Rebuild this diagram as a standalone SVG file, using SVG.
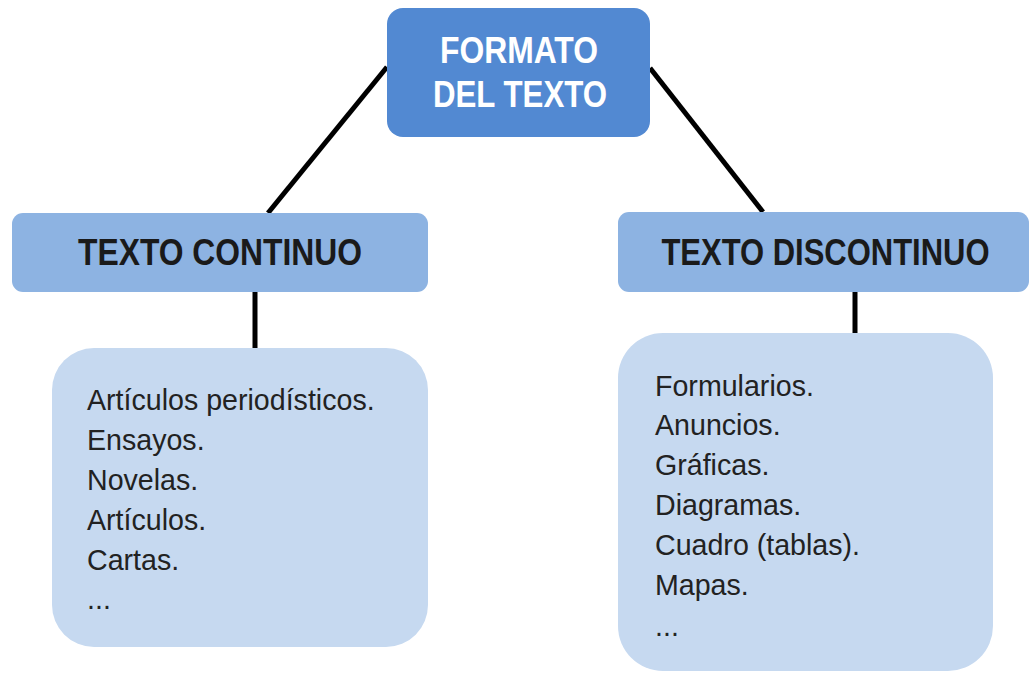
<svg xmlns="http://www.w3.org/2000/svg" width="1029" height="673" viewBox="0 0 1029 673">
<style>
.conn{stroke:#000;stroke-width:5;fill:none}
.top{fill:#5289d2}
.mid{fill:#8db3e2}
.low{fill:#c6d9f0}
.tw{font-family:"Liberation Sans",Arial,sans-serif;font-weight:bold;font-size:36px;fill:#fff;text-anchor:middle}
.th{font-family:"Liberation Sans",Arial,sans-serif;font-weight:bold;font-size:37px;fill:#1a1a1a;text-anchor:middle}
.tb{font-family:"Liberation Sans",Arial,sans-serif;font-size:28.6px;fill:#222}
</style>
<rect width="1029" height="673" fill="#fff"/>
<g id="connectors">
<line class="conn" x1="387" y1="67" x2="268" y2="213"/>
<line class="conn" x1="650" y1="68" x2="763" y2="212"/>
<line class="conn" x1="255" y1="292" x2="255" y2="349"/>
<line class="conn" x1="855" y1="292" x2="855" y2="334"/>
</g>
<g id="formato">
<rect class="top" x="387" y="8" width="263" height="129" rx="16"/>
<text class="tw" x="519" y="63" textLength="158" lengthAdjust="spacingAndGlyphs">FORMATO</text>
<text class="tw" x="520" y="107" textLength="174" lengthAdjust="spacingAndGlyphs">DEL TEXTO</text>
</g>
<g id="continuo">
<rect class="mid" x="12" y="213" width="416" height="79" rx="11"/>
<text class="th" x="220" y="265" textLength="284" lengthAdjust="spacingAndGlyphs">TEXTO CONTINUO</text>
</g>
<g id="discontinuo">
<rect class="mid" x="618" y="212" width="411" height="80" rx="11"/>
<text class="th" transform="translate(825.5 265) scale(0.8375 1)" x="0" y="0">TEXTO DISCONTINUO</text>
</g>
<g id="lista-continuo">
<rect class="low" x="52" y="348" width="376" height="299" rx="42"/>
<text class="tb" x="87" y="410">Artículos periodísticos.</text>
<text class="tb" x="87" y="450">Ensayos.</text>
<text class="tb" x="87" y="490">Novelas.</text>
<text class="tb" x="87" y="530">Artículos.</text>
<text class="tb" x="87" y="570">Cartas.</text>
<text class="tb" x="87" y="609">...</text>
</g>
<g id="lista-discontinuo">
<rect class="low" x="618" y="333" width="375" height="338" rx="45"/>
<text class="tb" x="655" y="396">Formularios.</text>
<text class="tb" x="655" y="435">Anuncios.</text>
<text class="tb" x="655" y="475">Gráficas.</text>
<text class="tb" x="655" y="515">Diagramas.</text>
<text class="tb" x="655" y="555">Cuadro (tablas).</text>
<text class="tb" x="655" y="595">Mapas.</text>
<text class="tb" x="655" y="636">...</text>
</g>
</svg>
